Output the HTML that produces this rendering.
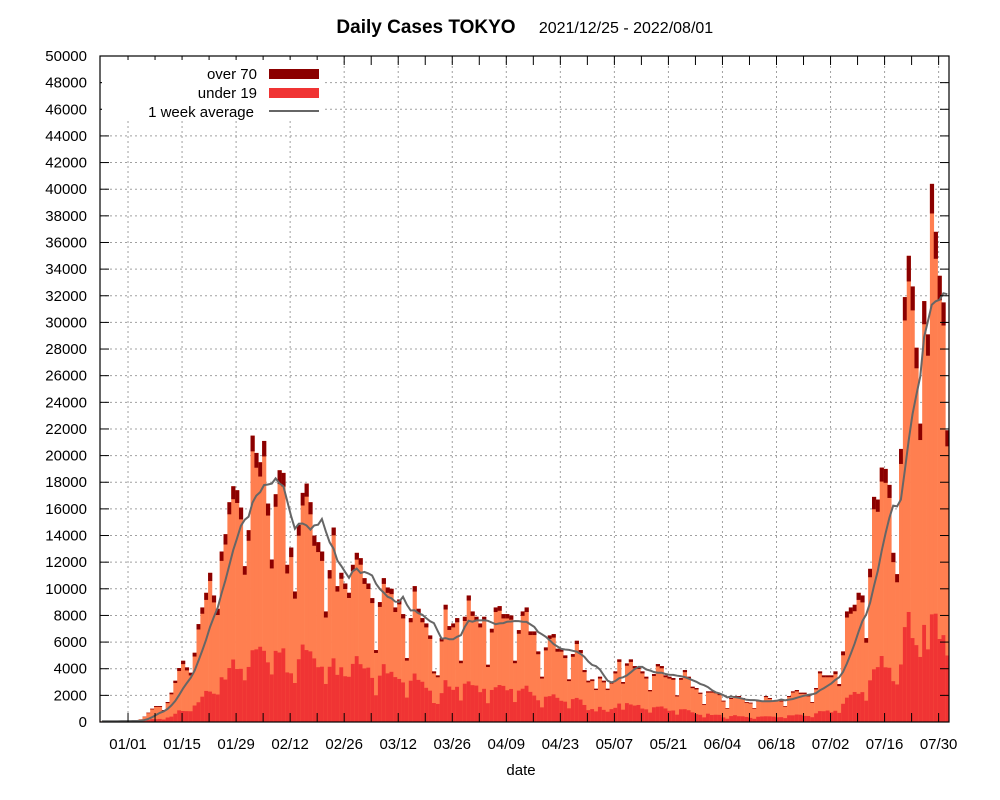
<!DOCTYPE html>
<html><head><meta charset="utf-8">
<style>
html,body{margin:0;padding:0;background:#fff;}
svg{display:block;font-family:"Liberation Sans",sans-serif;}
</style></head>
<body>
<svg id="c" width="1000" height="800" xmlns="http://www.w3.org/2000/svg"></svg>
<script>
var T={0:0.05,1:0.06,2:0.05,3:0.07,4:0.08,5:0.08,6:0.07,7:0.08,8:0.08,9:0.08,10:0.2,11:0.4,12:0.7,13:1.0,14:1.2,15:1.2,16:0.9,17:1.5,
18:2.2,19:3.1,20:4.05,21:4.6,22:4.1,23:3.7,24:5.2,25:7.35,26:8.6,27:9.7,28:11.2,29:9.5,30:8.5,31:12.8,32:14.1,33:16.5,34:17.7,35:17.4,36:16.1,37:11.7,38:14.4,
39:21.5,40:20.2,41:19.5,42:21.1,43:16.4,44:12.2,45:17.1,46:18.9,47:18.7,48:11.8,49:13.1,50:9.8,51:14.8,52:17.2,53:17.9,54:16.5,55:14.0,56:13.5,57:12.8,58:8.3,
59:11.4,60:14.6,61:10.2,62:11.2,63:10.4,64:9.7,65:11.8,66:12.7,67:12.3,68:10.8,69:10.4,70:9.3,71:5.4,72:9.0,73:10.8,74:10.1,75:10.0,
76:8.6,77:9.2,78:8.1,79:4.8,80:7.8,81:10.2,82:8.5,83:7.8,84:7.4,85:6.5,86:3.8,87:3.5,88:6.3,89:8.8,90:7.2,91:7.4,92:7.8,93:4.6,94:7.9,95:9.5,96:8.3,97:7.9,98:7.4,99:7.9,100:4.3,
101:7.0,102:8.6,103:8.7,104:8.1,105:8.1,106:8.0,107:4.6,108:6.9,109:8.3,110:8.6,111:6.8,112:6.8,113:5.3,114:3.4,115:5.6,116:6.5,117:6.6,118:5.5,119:5.5,120:5.0,
121:3.2,122:5.1,123:6.1,124:5.4,125:3.9,126:3.1,127:3.2,128:2.5,129:3.4,130:3.1,131:2.5,132:3.0,
133:3.8,134:4.7,135:3.0,136:4.4,137:4.7,138:4.2,139:4.15,140:3.8,141:3.4,142:2.4,143:3.6,144:4.35,145:4.2,146:3.5,147:3.4,148:3.3,149:2.0,150:3.3,
151:3.9,152:3.4,153:2.65,154:2.55,155:2.2,156:1.35,157:2.3,158:2.3,159:2.25,160:2.1,161:1.6,162:1.05,163:1.8,164:1.95,165:1.95,166:1.8,167:1.5,168:1.45,169:1.05,170:1.6,
171:1.6,172:1.95,173:1.8,174:1.6,175:1.65,176:1.6,177:1.2,178:1.95,179:2.3,180:2.4,181:2.2,182:2.2,183:2.0,184:1.5,185:2.55,186:3.8,187:3.5,188:3.5,189:3.5,
190:3.8,191:2.85,192:5.3,193:8.3,194:8.6,195:8.8,196:9.7,197:9.5,198:6.3,199:11.5,200:16.9,201:16.7,202:19.1,203:19.0,204:17.8,205:12.7,206:11.1,207:20.5,
208:31.9,209:35.0,210:32.7,211:28.1,212:22.4,213:31.6,214:29.1,215:40.4,216:36.8,217:33.5,218:31.5,219:21.9};
function fu(i){var P=[[0,0.2],[20,0.2],[40,0.27],[70,0.38],[85,0.37],[100,0.32],[130,0.31],[140,0.29],[160,0.24],[190,0.23],[200,0.25],[215,0.2],[219,0.22]];
for(var k=0;k<P.length-1;k++){if(i>=P[k][0]&&i<=P[k+1][0]){var t=(i-P[k][0])/(P[k+1][0]-P[k][0]);return P[k][1]+t*(P[k+1][1]-P[k][1]);}}return 0.22;}
function fo(i){return i<60?0.055:(i<190?0.04:0.055);}
var X0=100,X1=949,Y0=722,YT=56,dw=3.86,sc=(Y0-YT)/50000;
function Y(v){return Y0-v*1000*sc;}
var s='';
for(var v=2000;v<50000;v+=2000){var y=Y(v/1000);s+='<line x1="'+X0+'" x2="'+X1+'" y1="'+y+'" y2="'+y+'" stroke="#a0a0a0" stroke-width="1" stroke-dasharray="2,3"/>';}
var labels=['01/01','01/15','01/29','02/12','02/26','03/12','03/26','04/09','04/23','05/07','05/21','06/04','06/18','07/02','07/16','07/30'];
for(var k=0;k<labels.length;k++){var x=X0+dw*(7+14*k)+1;s+='<line x1="'+x+'" x2="'+x+'" y1="'+YT+'" y2="'+Y0+'" stroke="#a0a0a0" stroke-width="1" stroke-dasharray="2,3"/>';}
for(var i=0;i<220;i++){var t=T[i],x=X0+dw*i,w=dw+0.3;
 var n=((i*37)%7-3)*0.008;var u=t*(fu(i)+n),o=t*fo(i);
 s+='<rect x="'+x+'" y="'+Y(t)+'" width="'+w+'" height="'+(t*1000*sc)+'" fill="#ff7f50"/>';
 s+='<rect x="'+x+'" y="'+Y(t)+'" width="'+w+'" height="'+(o*1000*sc)+'" fill="#8b0000"/>';
 s+='<rect x="'+x+'" y="'+Y(u)+'" width="'+w+'" height="'+(u*1000*sc)+'" fill="#f03434"/>';}
var pts=[];for(var i=0;i<220;i++){var a=0,c=0;for(var j=Math.max(0,i-6);j<=i;j++){a+=T[j];c++;}pts.push((X0+dw*(i+0.5)).toFixed(1)+','+Y(a/c).toFixed(1));}
s+='<polyline points="'+pts.join(' ')+'" fill="none" stroke="#666" stroke-width="2"/>';
s+='<rect x="'+X0+'" y="'+YT+'" width="'+(X1-X0)+'" height="'+(Y0-YT)+'" fill="none" stroke="#000" stroke-width="1.2"/>';
for(var v=0;v<=50000;v+=2000){var y=Y(v/1000);s+='<line x1="'+X0+'" x2="'+(X0+9)+'" y1="'+y+'" y2="'+y+'" stroke="#000"/><line x1="'+(X1-9)+'" x2="'+X1+'" y1="'+y+'" y2="'+y+'" stroke="#000"/>';
 s+='<text x="87" y="'+(y+5)+'" font-size="15" text-anchor="end" fill="#000">'+v+'</text>';}
for(var i=7;i<=219;i+=7){var x=X0+dw*i+1;s+='<line x1="'+x+'" x2="'+x+'" y1="'+Y0+'" y2="'+(Y0-9)+'" stroke="#000"/><line x1="'+x+'" x2="'+x+'" y1="'+YT+'" y2="'+(YT+9)+'" stroke="#000"/>';}
for(var k=0;k<labels.length;k++){var x=X0+dw*(7+14*k)+1;s+='<text x="'+x+'" y="749" font-size="15" text-anchor="middle">'+labels[k]+'</text>';}
s+='<text x="521" y="775" font-size="15" text-anchor="middle">date</text>';
s+='<text x="426" y="33" font-size="19" font-weight="bold" text-anchor="middle">Daily Cases TOKYO</text>';
s+='<text x="626" y="33" font-size="16" text-anchor="middle">2021/12/25 - 2022/08/01</text>';
s+='<rect x="102" y="60" width="220" height="60" fill="#fff"/>';
s+='<text x="257" y="79" font-size="15" text-anchor="end">over 70</text><rect x="269" y="69" width="50" height="10" fill="#8b0000"/>';
s+='<text x="257" y="98" font-size="15" text-anchor="end">under 19</text><rect x="269" y="88" width="50" height="10" fill="#f03434"/>';
s+='<text x="254" y="117" font-size="15" text-anchor="end">1 week average</text><line x1="269" x2="319" y1="111" y2="111" stroke="#666" stroke-width="2"/>';
document.getElementById('c').innerHTML=s;
</script>
</body></html>
